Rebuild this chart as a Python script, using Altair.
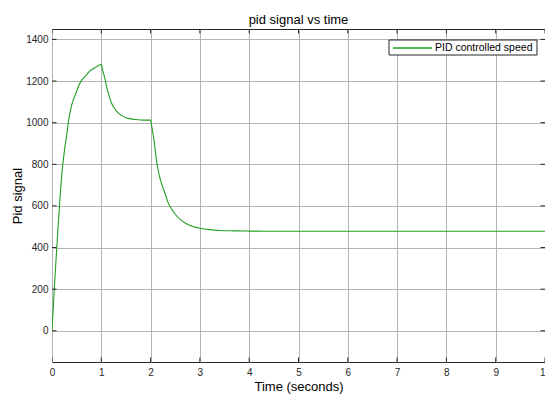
import altair as alt
import pandas as pd

# ---- data ----
time_s = [0.0, 0.025, 0.05, 0.075, 0.1, 0.125, 0.15, 0.175, 0.2, 0.25, 0.3, 0.35, 0.4, 0.45,
          0.5, 0.55, 0.6, 0.7, 0.75, 0.8, 0.9, 1.0,
          1.025, 1.05, 1.075, 1.1, 1.15, 1.2, 1.25, 1.3, 1.35, 1.4, 1.5, 1.6, 1.7, 1.8, 1.9, 2.0,
          2.025, 2.05, 2.075, 2.1, 2.125, 2.15, 2.2, 2.25, 2.3, 2.35, 2.4, 2.5, 2.6, 2.7, 2.8,
          2.9, 3.0, 3.2, 3.4, 3.7, 4.0, 4.5, 5.0, 6.0, 7.0, 8.0, 9.0, 10.0]
pid_signal = [0, 110, 215, 315, 412, 505, 595, 680, 755, 860, 945, 1030, 1085, 1120,
              1150, 1182, 1203, 1230, 1244, 1254, 1268, 1280,
              1255, 1232, 1210, 1180, 1135, 1098, 1075, 1058, 1046, 1036, 1024, 1018, 1015, 1013, 1012, 1012,
              980, 945, 905, 855, 810, 775, 725, 688, 655, 618, 595, 560, 535, 518, 506,
              498, 493, 486, 482, 480, 479, 478, 478, 478, 478, 478, 478, 478]
series_name = "PID controlled speed"
x_ticks = [0, 1, 2, 3, 4, 5, 6, 7, 8, 9, 10]
y_ticks = [0, 200, 400, 600, 800, 1000, 1200, 1400]

W, H = 493, 333
GREEN = "#20a020"
DARK = "#262626"
FONT = "Liberation Sans"

df = pd.DataFrame({"t": time_s, "v": pid_signal, "series": series_name})
xt = pd.DataFrame({"t": x_ticks})
yt = pd.DataFrame({"v": y_ticks})
leg = pd.DataFrame({"series": [series_name]})

xscale = alt.Scale(domain=[0, 10], nice=False, zero=False)
yscale = alt.Scale(domain=[-150, 1450], nice=False, zero=False)
xaxis = alt.Axis(values=x_ticks, title="Time (seconds)", format="d", labelFlush=False)
yaxis = alt.Axis(values=y_ticks, title="Pid signal", format="d", labelFlush=False)

line = alt.Chart(df).mark_line(strokeWidth=1.1, clip=True, interpolate="monotone",
                               color=GREEN).encode(
    x=alt.X("t:Q", scale=xscale, axis=xaxis),
    y=alt.Y("v:Q", scale=yscale, axis=yaxis),
    detail="series:N",
)

tick_style = dict(thickness=1, color=DARK, clip=True, opacity=1)
xt_bottom = alt.Chart(xt).mark_tick(orient="vertical", size=9, **tick_style).encode(
    x=alt.X("t:Q", scale=xscale, axis=xaxis), y=alt.value(H))
xt_top = alt.Chart(xt).mark_tick(orient="vertical", size=9, **tick_style).encode(
    x=alt.X("t:Q", scale=xscale, axis=xaxis), y=alt.value(0))
yt_left = alt.Chart(yt).mark_tick(orient="horizontal", size=9, **tick_style).encode(
    y=alt.Y("v:Q", scale=yscale, axis=yaxis), x=alt.value(0))
yt_right = alt.Chart(yt).mark_tick(orient="horizontal", size=9, **tick_style).encode(
    y=alt.Y("v:Q", scale=yscale, axis=yaxis), x=alt.value(W))

# legend box (top-right, inside the axes)
leg_box = alt.Chart(leg).mark_rect(fill="white", stroke=DARK, strokeWidth=1).encode(
    x=alt.value(337), x2=alt.value(485), y=alt.value(11), y2=alt.value(26))
leg_line = alt.Chart(leg).mark_rule(color=GREEN, strokeWidth=1.3).encode(
    x=alt.value(341), x2=alt.value(380), y=alt.value(19))
leg_text = alt.Chart(leg).mark_text(align="left", baseline="middle", font=FONT,
                                    fontSize=10.5, color="#000000").encode(
    x=alt.value(383), y=alt.value(18.5), text="series:N")

chart = alt.layer(line, xt_bottom, xt_top, yt_left, yt_right,
                  leg_box, leg_line, leg_text).properties(
    width=W, height=H,
    autosize=alt.AutoSizeParams(type="none"),
    padding={"left": 52, "top": 29, "right": 0, "bottom": 35},
    background="white",
    title=alt.TitleParams("pid signal vs time", fontSize=13, fontWeight="normal",
                          font=FONT, color="#000000", offset=2, anchor="middle"),
).configure_view(
    stroke=DARK, strokeWidth=1
).configure_axis(
    grid=True, gridColor="#b4b4b4", gridWidth=1, domain=False, ticks=False,
    labelFont=FONT, labelFontSize=10, labelColor=DARK,
    titleFont=FONT, titleFontSize=13, titleFontWeight="normal", titleColor="#000000",
).configure_axisX(
    labelPadding=5, titlePadding=3
).configure_axisY(
    labelPadding=4, titlePadding=1
)

chart.save("out.html", embed_options={"renderer": "svg", "actions": False})
